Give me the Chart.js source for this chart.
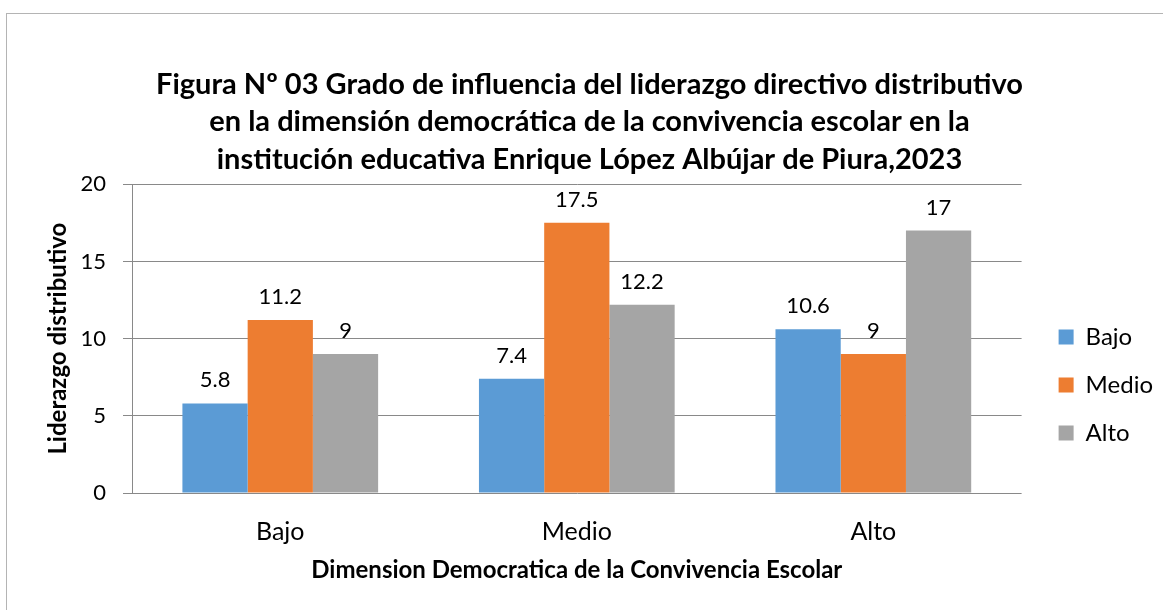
<!DOCTYPE html>
<html>
<head>
<meta charset="utf-8">
<script src="https://cdn.jsdelivr.net/npm/chart.js@4"></script>
<style>
  html, body { margin: 0; padding: 0; background: #fff; }
  #wrap { width: 1163px; height: 610px; }
</style>
</head>
<body>
<div id="wrap"><canvas id="c" width="1163" height="610"></canvas></div>
<script>
// Categories on the x axis and one series per level of "Liderazgo distributivo"
const categories = ["Bajo", "Medio", "Alto"]
const bajo  = [5.8, 7.4, 10.6]
const medio = [11.2, 17.5, 9]
const alto  = [9, 12.2, 17]
const yTicks = [0, 5, 10, 15, 20]

const FONT = "Lato, 'Open Sans', sans-serif"

// Value labels above each bar
const valueLabels = {
  id: "valueLabels",
  afterDatasetsDraw(chart) {
    const ctx = chart.ctx
    ctx.save()
    ctx.font = "22px " + FONT
    ctx.fillStyle = "#000"
    ctx.textAlign = "center"
    ctx.textBaseline = "alphabetic"
    chart.data.datasets.forEach((ds, i) => {
      chart.getDatasetMeta(i).data.forEach((bar, j) => {
        ctx.fillText(String(ds.data[j]), bar.x, bar.y - 16)
      })
    })
    ctx.restore()
  }
}

// Frame of the chart area; its right and bottom edges fall outside the picture
const frame = {
  id: "frame",
  beforeDraw(chart) {
    const ctx = chart.ctx
    ctx.save()
    ctx.fillStyle = "#fff"
    ctx.fillRect(0, 0, chart.width, chart.height)
    ctx.strokeStyle = "#b4b4b4"
    ctx.lineWidth = 1
    ctx.strokeRect(6.5, 13.5, chart.width + 10, chart.height + 10)
    ctx.restore()
  }
}

new Chart(document.getElementById("c"), {
  type: "bar",
  data: {
    labels: categories,
    datasets: [
      { label: "Bajo",  data: bajo,  backgroundColor: "#5b9bd5", yAxisID: "y" },
      { label: "Medio", data: medio, backgroundColor: "#ed7d31", yAxisID: "y" },
      { label: "Alto",  data: alto,  backgroundColor: "#a5a5a5", yAxisID: "y" }
    ]
  },
  options: {
    responsive: false,
    animation: false,
    categoryPercentage: 0.66,
    barPercentage: 1,
    layout: { padding: { top: 66, left: 16, right: 0, bottom: 20 } },
    plugins: {
      title: {
        display: true,
        text: [
          "Figura Nº 03 Grado de influencia del liderazgo directivo distributivo",
          "en la dimensión democrática de la convivencia escolar en la",
          "institución educativa Enrique López Albújar de Piura,2023"
        ],
        color: "#000",
        font: { family: FONT, size: 29, weight: "bold", lineHeight: 1.29 },
        padding: { top: 0, bottom: 6 }
      },
      legend: {
        position: "right",
        // empty title only pushes the entries down
        title: { display: true, text: "", padding: { top: 102, bottom: 0 }, font: { size: 10 } },
        labels: {
          color: "#000",
          font: { family: FONT, size: 24 },
          boxWidth: 15,
          boxHeight: 15,
          padding: 24
        }
      },
      tooltip: { enabled: false }
    },
    scales: {
      x: {
        grid: { display: false },
        border: { display: false },
        ticks: { color: "#000", font: { family: FONT, size: 25 }, padding: 16 },
        title: {
          display: true,
          text: "Dimension Democratica de la Convivencia Escolar",
          color: "#000",
          font: { family: FONT, size: 24, weight: "bold" },
          padding: { top: 0, bottom: 5 }
        },
        afterFit(scale) { scale.height = 97 }
      },
      y: {
        min: 0,
        max: 20,
        afterBuildTicks(scale) { scale.ticks = yTicks.map((v) => ({ value: v })) },
        grid: { color: "#898989", tickLength: 9 },
        border: { display: true, color: "#898989" },
        ticks: { color: "#000", font: { family: FONT, size: 22 }, padding: 17 },
        title: {
          display: true,
          text: "Liderazgo distributivo",
          color: "#000",
          font: { family: FONT, size: 24, weight: "bold" },
          padding: { top: 28, bottom: 0 }
        },
        afterFit(scale) { scale.width = 116 }
      },
      // empty axis that only keeps a gap between the plot and the legend
      gap: {
        position: "right",
        grid: { display: false },
        border: { display: false },
        ticks: { display: false },
        afterFit(scale) { scale.width = 13 }
      }
    }
  },
  plugins: [frame, valueLabels]
})
</script>
</body>
</html>
